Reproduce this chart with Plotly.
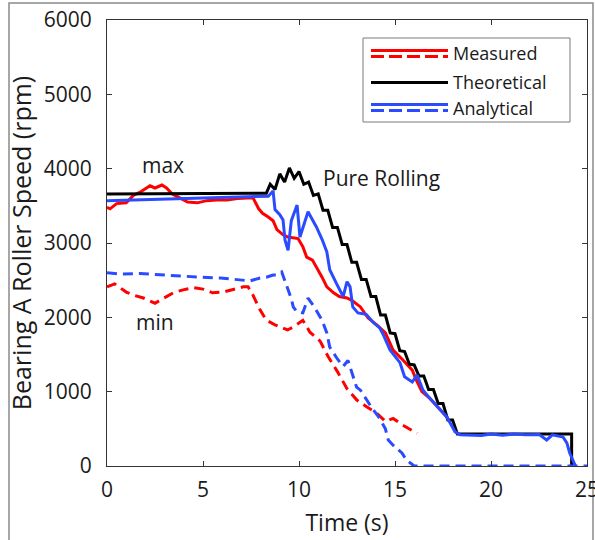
import plotly.graph_objects as go

# ---------------- data ----------------
theory_t = [0, 8.3, 8.5, 8.75, 9.0, 9.25, 9.5, 9.75, 10.0, 10.25, 10.5, 10.75, 11.0, 11.25, 11.5,
            11.75, 12.0, 12.25, 12.5, 12.75, 13.0, 13.25, 13.5, 13.75, 14.0, 14.25, 14.5,
            14.75, 15.0, 15.25, 15.5, 15.75, 16.0, 16.25, 16.5, 16.75, 17.0, 17.25, 17.5,
            17.75, 18.0, 18.25, 24.2, 24.2, 24.3]
theory_v = [3660, 3670, 3790, 3720, 3930, 3820, 4010, 3870, 3960, 3790, 3820, 3640, 3660, 3440, 3440,
            3210, 3210, 2980, 2980, 2740, 2740, 2510, 2510, 2280, 2280, 2030, 2030,
            1790, 1780, 1550, 1540, 1370, 1360, 1210, 1210, 1030, 1030, 840, 840,
            620, 620, 430, 430, 0, 0]

meas_max_t = [0, 0.16, 0.5, 1.0, 1.37, 1.7, 2.24, 2.5, 2.86, 3.1, 3.4, 3.8, 4.2, 4.7, 5.2, 5.7,
              6.25, 6.8, 7.3, 7.6, 7.9, 8.1, 8.4, 8.65, 8.85, 9.17, 9.43, 9.7, 9.95, 10.2,
              10.4, 10.7, 10.9, 11.2, 11.45, 11.8, 12.1, 12.5, 12.8, 13.2, 13.6, 14.05, 14.5,
              14.74, 14.9, 15.4, 15.9, 16.1, 16.4, 16.8, 17.24, 17.7]
meas_max_v = [3480, 3460, 3530, 3540, 3640, 3680, 3770, 3740, 3780, 3740, 3660, 3600, 3550, 3540, 3570, 3580,
              3580, 3600, 3610, 3610, 3460, 3400, 3350, 3300, 3180, 3110, 3080, 3070, 3060, 2950,
              2810, 2770, 2680, 2540, 2410, 2330, 2280, 2260, 2220, 2140, 1990, 1900, 1790,
              1640, 1560, 1430, 1290, 1160, 1000, 915, 795, 660]

meas_min_t = [0, 0.4, 1.0, 1.37, 1.9, 2.5, 2.9, 3.45, 3.96, 4.5, 5.0, 5.5, 6.04, 6.56, 7.1, 7.35,
              7.6, 7.97, 8.3, 8.75, 9.4, 9.7, 10.2, 10.57, 11.1, 11.5, 12.0, 12.5, 13.0, 13.5,
              14.05, 14.5, 14.9, 15.4, 16.15]
meas_min_v = [2410, 2450, 2340, 2300, 2260, 2190, 2250, 2330, 2370, 2400, 2380, 2330, 2340, 2370, 2410, 2410,
              2300, 2100, 1960, 1900, 1830, 1870, 1960, 1800, 1680, 1480, 1270, 1040, 890, 800,
              710, 600, 640, 550, 440]

anal_max_t = [0, 8.4, 8.65, 8.75, 9.0, 9.17, 9.27, 9.43, 9.6, 9.9, 10.05, 10.25, 10.47, 10.9,
              11.2, 11.45, 11.6, 11.98, 12.3, 12.5, 12.66, 12.8, 13.07, 13.5, 13.87, 14.2,
              14.4, 14.74, 15.26, 15.5, 15.9, 16.15, 16.46, 16.8, 17.24, 17.7, 18.13, 18.4,
              19.5, 20.0, 20.6, 21.2, 21.8, 22.5, 22.9, 23.2, 23.75, 23.95, 24.1, 24.3, 24.4]
anal_max_v = [3570, 3630, 3700, 3450, 3380, 3310, 3040, 2900, 3300, 3510, 3080, 3250, 3420, 3220,
              3050, 2880, 2640, 2440, 2280, 2480, 2410, 2140, 2060, 2040, 1930, 1860,
              1760, 1560, 1390, 1200, 1130, 1225, 1020, 915, 795, 660, 460, 420,
              410, 430, 415, 430, 420, 425, 350, 420, 390, 310, 175, 40, 0]

anal_min_t = [0, 0.68, 1.7, 2.76, 3.8, 4.85, 5.9, 6.9, 7.45, 7.97, 8.3, 8.65, 8.85, 9.1, 9.3,
              9.5, 9.6, 9.7, 9.9, 10.2, 10.47, 10.8, 11.2, 11.45, 11.6, 12.0, 12.3, 12.55,
              12.76, 13.0, 13.2, 13.5, 13.8, 14.2, 14.5, 14.65, 14.9, 15.36, 15.6, 16.0, 25]
anal_min_v = [2600, 2580, 2590, 2570, 2560, 2540, 2530, 2510, 2490, 2530, 2540, 2570, 2570, 2610, 2460,
              2340, 2250, 2140, 2070, 2060, 2260, 2140, 1960, 1790, 1600, 1440, 1340, 1420,
              1250, 1060, 1020, 900, 780, 640, 500, 350, 280, 175, 80, 0, 0]

x_ticks = [0, 5, 10, 15, 20, 25]
y_ticks = [0, 1000, 2000, 3000, 4000, 5000, 6000]

RED = "#ff0000"
BLACK = "#000000"
BLUE = "#2a4bff"
DASH = "10px,6px"
FONT = "Open Sans"
TXT = "#1a1a1a"

fig = go.Figure()
fig.add_trace(go.Scatter(x=meas_max_t, y=meas_max_v, mode="lines",
                         line=dict(color=RED, width=3), showlegend=False))
fig.add_trace(go.Scatter(x=meas_min_t, y=meas_min_v, mode="lines",
                         line=dict(color=RED, width=3, dash=DASH), showlegend=False))
fig.add_trace(go.Scatter(x=theory_t, y=theory_v, mode="lines",
                         line=dict(color=BLACK, width=3), showlegend=False))
fig.add_trace(go.Scatter(x=anal_max_t, y=anal_max_v, mode="lines",
                         line=dict(color=BLUE, width=3), showlegend=False))
fig.add_trace(go.Scatter(x=anal_min_t, y=anal_min_v, mode="lines",
                         line=dict(color=BLUE, width=3, dash=DASH), showlegend=False))

# plot area in pixels: x 107..587, y 20..466
L, R, T, B = 107, 8, 20, 74
W, H = 595, 540
PW, PH = W - L - R, H - T - B


def px(x):
    return (x - L) / PW


def py(y):
    return (T + PH - y) / PH


shapes = []
# outer figure frame
shapes.append(dict(type="rect", xref="paper", yref="paper",
                   x0=px(9), x1=px(593), y0=py(548), y1=py(3),
                   line=dict(color="#8a8a8a", width=1.5), fillcolor="rgba(0,0,0,0)", layer="below"))
# legend box
shapes.append(dict(type="rect", xref="paper", yref="paper",
                   x0=px(363), x1=px(570), y0=py(122), y1=py(38),
                   line=dict(color="#7a7a7a", width=1), fillcolor="white"))
legend_rows = [
    ("Measured", RED, [50.5, 56.5], 53),
    ("Theoretical", BLACK, [82.5], 82),
    ("Analytical", BLUE, [104.5, 110.5], 108),
]
annotations = []
for name, col, ys, ty in legend_rows:
    for i, yy in enumerate(ys):
        shapes.append(dict(type="line", xref="paper", yref="paper",
                           x0=px(371), x1=px(448), y0=py(yy), y1=py(yy),
                           line=dict(color=col, width=3, dash=("solid" if i == 0 else "13px,5px"))))
    annotations.append(dict(xref="paper", yref="paper", x=px(451), y=py(ty),
                            text=name, showarrow=False, xanchor="left", yanchor="middle",
                            font=dict(family=FONT, size=18, color=TXT)))

annotations += [
    dict(x=2.9, y=4050, text="max", showarrow=False, xanchor="center", yanchor="middle",
         font=dict(family=FONT, size=21, color=TXT)),
    dict(x=2.5, y=1940, text="min", showarrow=False, xanchor="center", yanchor="middle",
         font=dict(family=FONT, size=21, color=TXT)),
    dict(x=11.15, y=3880, text="Pure Rolling", showarrow=False, xanchor="left", yanchor="middle",
         font=dict(family=FONT, size=21, color=TXT)),
]

axis_common = dict(showgrid=False, zeroline=False, showline=True, mirror="ticks",
                   linecolor="#333", linewidth=1, ticks="inside", ticklen=5,
                   tickcolor="#333", ticklabeloverflow="allow", automargin=False,
                   tickfont=dict(family=FONT, size=21, color=TXT))

fig.update_layout(
    width=W, height=H,
    margin=dict(l=L, r=R, t=T, b=B, autoexpand=False),
    paper_bgcolor="white", plot_bgcolor="white",
    showlegend=False,
    xaxis=dict(range=[0, 25], tickvals=x_ticks, ticktext=[str(v) for v in x_ticks],
               ticklabelstandoff=5,
               title=dict(text="Time (s)", font=dict(family=FONT, size=23, color=TXT), standoff=12),
               **axis_common),
    yaxis=dict(range=[0, 6000], tickvals=y_ticks, ticktext=[str(v) for v in y_ticks],
               ticklabelstandoff=10,
               title=dict(text="Bearing A Roller Speed (rpm)", font=dict(family=FONT, size=25, color=TXT),
                          standoff=5),
               **axis_common),
    shapes=shapes,
    annotations=annotations,
)

fig.write_html("out.html")
